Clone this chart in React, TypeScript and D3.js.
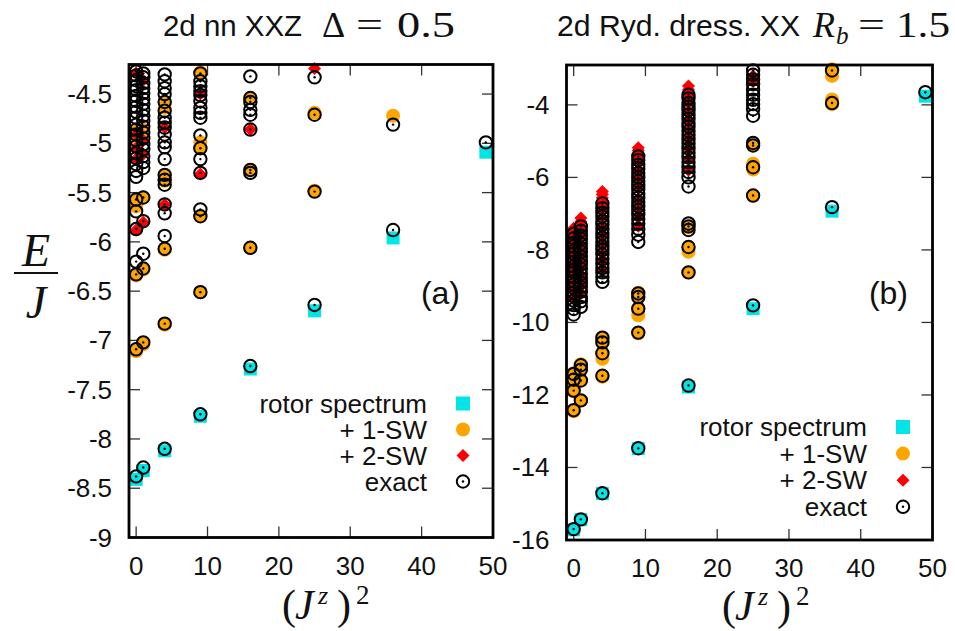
import React from "react";
import * as d3 from "d3";

// ---------- data ----------
const X_VALUES = [0, 1, 4, 9, 16, 25, 36, 49];
const X_TICKS = [0, 10, 20, 30, 40, 50];

// panel (a): 2d nn XXZ, Delta = 0.5
const Y_TICKS_A = [-4.5, -5, -5.5, -6, -6.5, -7, -7.5, -8, -8.5, -9];
const rotorA = [-8.41, -8.32, -8.12, -7.77, -7.29, -6.7, -5.96, -5.09];
const sw1A: Record<number, number[]> = {
  0: [-4.88, -4.95, -5.58, -5.64, -6.34, -7.11],
  1: [-4.86, -4.93, -5.55, -6.28, -7.04],
  4: [-4.59, -4.64, -5.33, -5.38, -6.08, -6.84],
  9: [-4.28, -4.99, -5.05, -5.74, -6.51],
  16: [-4.54, -5.27, -6.06],
  25: [-4.69, -5.48],
  36: [-4.72],
};
const sw2A: Record<number, number[]> = {
  0: [-4.29, -4.91, -5.05, -5.16, -5.88],
  1: [-4.36, -4.97, -5.11, -5.8],
  4: [-4.84, -5.62],
  9: [-4.5, -5.31],
  16: [-4.86],
  25: [-4.24],
};
const exactA: Record<number, number[]> = {
  0: [-4.27, -4.31, -4.36, -4.42, -4.46, -4.52, -4.57, -4.63, -4.68, -4.74, -4.81, -4.86, -4.91, -4.97, -5.03, -5.1, -5.15, -5.21, -5.28, -5.34, -5.57, -5.69, -5.87, -6.2, -6.33, -7.09, -8.38],
  1: [-4.29, -4.33, -4.39, -4.44, -4.49, -4.55, -4.6, -4.66, -4.72, -4.77, -4.83, -4.89, -4.95, -5.01, -5.06, -5.13, -5.19, -5.25, -5.55, -5.79, -6.12, -6.27, -7.02, -8.29],
  4: [-4.3, -4.37, -4.44, -4.5, -4.58, -4.67, -4.74, -4.79, -4.84, -4.91, -4.99, -5.04, -5.16, -5.32, -5.37, -5.42, -5.62, -5.71, -5.94, -6.07, -6.83, -8.1],
  9: [-4.29, -4.37, -4.42, -4.47, -4.51, -4.57, -4.64, -4.69, -4.74, -4.92, -5.05, -5.16, -5.3, -5.67, -5.74, -6.51, -7.75],
  16: [-4.32, -4.54, -4.58, -4.66, -4.71, -4.86, -5.27, -5.3, -6.06, -7.26],
  25: [-4.33, -4.71, -5.49, -6.64],
  36: [-4.81, -5.88],
  49: [-4.99],
};

// panel (b): 2d Rydberg dressed XX, R_b = 1.5
const Y_TICKS_B = [-4, -6, -8, -10, -12, -14, -16];
const rotorB = [-15.72, -15.44, -14.72, -13.48, -11.78, -9.62, -6.93, -3.76];
const sw1B: Record<number, number[]> = {
  0: [-11.4, -11.55, -11.72, -11.9, -12.45],
  1: [-11.15, -11.3, -11.6, -12.15],
  4: [-10.42, -10.55, -10.85, -11.0, -11.5],
  9: [-9.18, -9.3, -9.62, -9.8, -10.3],
  16: [-7.38, -7.92, -8.05, -8.62],
  25: [-5.12, -5.62, -5.78, -6.5],
  36: [-3.02, -3.2, -3.85, -3.98],
};
const sw2B: Record<number, number[]> = {
  0: [-7.4, -7.5, -7.62, -7.75, -7.9, -8.05, -8.22, -8.4, -8.55, -8.7, -8.9, -9.1, -9.3],
  1: [-7.12, -7.22, -7.35, -7.5, -7.65, -7.85, -8.0, -8.15, -8.3, -8.5, -8.7, -8.85, -9.0, -9.2],
  4: [-6.39, -6.47, -6.57, -6.68, -6.8, -6.95, -7.15, -7.4, -7.6, -7.85, -8.1, -8.35, -8.55],
  9: [-5.18, -5.26, -5.35, -5.47, -5.6, -5.8, -6.05, -6.3, -6.6, -6.85, -7.1, -7.35],
  16: [-3.48, -3.58, -3.7, -3.82, -3.95, -4.2, -4.45, -4.7, -4.95, -5.2, -5.5, -5.8],
  25: [-3.2, -3.35],
};
const exactB: Record<number, number[]> = {
  0: [-7.55, -7.68, -7.8, -7.9, -8.02, -8.1, -8.22, -8.33, -8.45, -8.55, -8.62, -8.75, -8.86, -8.95, -9.05, -9.17, -9.28, -9.4, -9.52, -9.63, -9.78, -11.42, -11.58, -11.88, -12.42, -15.7],
  1: [-7.35, -7.47, -7.6, -7.7, -7.83, -7.95, -8.05, -8.18, -8.3, -8.4, -8.52, -8.66, -8.78, -8.9, -9.02, -9.15, -9.3, -9.42, -9.57, -11.18, -11.3, -11.6, -12.15, -15.43],
  4: [-6.72, -6.85, -6.97, -7.08, -7.2, -7.3, -7.42, -7.55, -7.66, -7.78, -7.9, -8.0, -8.12, -8.25, -8.38, -8.5, -8.62, -8.75, -8.88, -10.42, -10.55, -10.85, -11.47, -14.71],
  9: [-5.42, -5.52, -5.65, -5.76, -5.88, -6.0, -6.1, -6.22, -6.33, -6.45, -6.56, -6.68, -6.8, -6.9, -7.02, -7.15, -7.28, -7.42, -7.58, -7.78, -9.2, -9.3, -9.62, -10.28, -13.47],
  16: [-3.72, -3.82, -3.95, -4.05, -4.15, -4.27, -4.38, -4.5, -4.6, -4.72, -4.83, -4.95, -5.07, -5.2, -5.32, -5.45, -5.58, -5.72, -5.85, -6.0, -6.25, -7.27, -7.35, -7.45, -7.92, -8.62, -11.74],
  25: [-3.05, -3.17, -3.3, -3.43, -3.58, -3.72, -3.86, -3.98, -4.12, -4.3, -5.05, -5.12, -5.72, -6.5, -9.53],
  36: [-3.05, -3.95, -6.82],
  49: [-3.65],
};

const LEGEND_LABELS = ["rotor spectrum", "+ 1-SW", "+ 2-SW", "exact"];

// ---------- style ----------
const CYAN = "#00e5e6";
const ORANGE = "#ffa500";
const RED = "#ff0000";
const SANS = "'Liberation Sans', Arial, Helvetica, sans-serif";
const SERIF = "'Liberation Serif', 'DejaVu Serif', serif";
const FS = 26;

type Pt = [number, number];
const flatten = (col: Record<number, number[]>): Pt[] =>
  Object.keys(col).flatMap((k) => col[+k].map((v) => [+k, v] as Pt));

const Square = ({ cx, cy, s = 13 }: { cx: number; cy: number; s?: number }) => (
  <rect x={cx - s / 2} y={cy - s / 2} width={s} height={s} fill={CYAN} />
);
const Disc = ({ cx, cy }: { cx: number; cy: number }) => (
  <circle cx={cx} cy={cy} r={7} fill={ORANGE} />
);
const Diamond = ({ cx, cy }: { cx: number; cy: number }) => (
  <path d={`M${cx},${cy - 6.5}L${cx + 6.5},${cy}L${cx},${cy + 6.5}L${cx - 6.5},${cy}Z`} fill={RED} />
);
const Exact = ({ cx, cy }: { cx: number; cy: number }) => (
  <g>
    <circle cx={cx} cy={cy} r={6.2} fill="none" stroke="#000" strokeWidth={2} />
    <circle cx={cx} cy={cy} r={1.2} fill="#000" />
  </g>
);

interface PanelProps {
  left: number; right: number; top: number; bottom: number;
  yDomain: [number, number];
  yTicks: number[];
  rotor: number[];
  sw1: Record<number, number[]>;
  sw2: Record<number, number[]>;
  exact: Record<number, number[]>;
  tag: string;
  legendTextX: number; legendSymX: number; legendY0: number; legendDy: number;
  tagX: number; tagY: number;
}

function Panel(p: PanelProps) {
  const x = d3.scaleLinear().domain([-1, 50]).range([p.left, p.right]);
  const y = d3.scaleLinear().domain(p.yDomain).range([p.bottom, p.top]);
  const tickLen = 11;
  const fmt = (v: number) => String(v);
  return (
    <g>
      {p.yTicks.map((t) => (
        <g key={"y" + t}>
          <line x1={p.left} x2={p.left + tickLen} y1={y(t)} y2={y(t)} stroke="#333" strokeWidth={1.3} />
          <line x1={p.right - tickLen} x2={p.right} y1={y(t)} y2={y(t)} stroke="#333" strokeWidth={1.3} />
          <text x={p.left - 17} y={y(t) + 9} textAnchor="end" fontFamily={SANS} fontSize={FS} fill="#111">
            {fmt(t)}
          </text>
        </g>
      ))}
      {X_TICKS.map((t) => (
        <g key={"x" + t}>
          <line x1={x(t)} x2={x(t)} y1={p.bottom} y2={p.bottom - tickLen} stroke="#333" strokeWidth={1.3} />
          <line x1={x(t)} x2={x(t)} y1={p.top} y2={p.top + tickLen} stroke="#333" strokeWidth={1.3} />
          <text x={x(t)} y={p.bottom + 37} textAnchor="middle" fontFamily={SANS} fontSize={FS} fill="#111">
            {fmt(t)}
          </text>
        </g>
      ))}
      {X_VALUES.map((xv, i) => (
        <Square key={"r" + xv} cx={x(xv)} cy={y(p.rotor[i])} />
      ))}
      {flatten(p.sw1).map(([xv, v], i) => (
        <Disc key={"o" + i} cx={x(xv)} cy={y(v)} />
      ))}
      {flatten(p.sw2).map(([xv, v], i) => (
        <Diamond key={"d" + i} cx={x(xv)} cy={y(v)} />
      ))}
      {flatten(p.exact).map(([xv, v], i) => (
        <Exact key={"e" + i} cx={x(xv)} cy={y(v)} />
      ))}
      {LEGEND_LABELS.map((lab, i) => {
        const cy = p.legendY0 + i * p.legendDy;
        return (
          <g key={lab}>
            <text x={p.legendTextX} y={cy + 9} textAnchor="end" fontFamily={SANS} fontSize={FS} fill="#111">
              {lab}
            </text>
            {i === 0 && <Square cx={p.legendSymX} cy={cy} s={14} />}
            {i === 1 && <Disc cx={p.legendSymX} cy={cy} />}
            {i === 2 && <Diamond cx={p.legendSymX} cy={cy} />}
            {i === 3 && <Exact cx={p.legendSymX} cy={cy} />}
          </g>
        );
      })}
      <text x={p.tagX} y={p.tagY} textAnchor="end" fontFamily={SANS} fontSize={32} fill="#111">
        {p.tag}
      </text>
      <rect x={p.left} y={p.top} width={p.right - p.left} height={p.bottom - p.top} fill="none" stroke="#000" strokeWidth={2.8} />
    </g>
  );
}

function XLabel({ x0, y }: { x0: number; y: number }) {
  return (
    <g fontFamily={SERIF} fill="#111">
      <text x={x0} y={y} fontSize={42}>(</text>
      <text x={x0 + 13} y={y} fontSize={42} fontStyle="italic">J</text>
      <text x={x0 + 36} y={y - 15} fontSize={26} fontStyle="italic">z</text>
      <text x={x0 + 55} y={y} fontSize={42}>)</text>
      <text x={x0 + 74} y={y - 15} fontSize={27}>2</text>
    </g>
  );
}

export default function App() {
  return (
    <svg width={955} height={631} style={{ position: "absolute", left: 0, top: 0, background: "#fff" }}>
      <rect width={955} height={631} fill="#fff" />
      {/* titles */}
      <text x={163} y={36} fontFamily={SANS} fontSize={29} fill="#111" textLength={139} lengthAdjust="spacingAndGlyphs">
        2d nn XXZ
      </text>
      <g fontFamily={SERIF} fill="#111" fontSize={36}>
        <text x={322} y={37}>Δ</text>
        <text x={356} y={37} textLength={27} lengthAdjust="spacingAndGlyphs">=</text>
        <text x={397} y={37} textLength={58} lengthAdjust="spacingAndGlyphs">0.5</text>
      </g>
      <text x={557} y={36} fontFamily={SANS} fontSize={29} fill="#111" textLength={243} lengthAdjust="spacingAndGlyphs">
        2d Ryd. dress. XX
      </text>
      <g fontFamily={SERIF} fill="#111" fontSize={36}>
        <text x={813} y={37} fontStyle="italic">R</text>
        <text x={836} y={44} fontStyle="italic" fontSize={25}>b</text>
        <text x={858} y={37} textLength={27} lengthAdjust="spacingAndGlyphs">=</text>
        <text x={896} y={37} textLength={54} lengthAdjust="spacingAndGlyphs">1.5</text>
      </g>

      {/* y label E/J */}
      <text x={36} y={266} textAnchor="middle" fontFamily={SERIF} fontStyle="italic" fontSize={46} fill="#111">E</text>
      <line x1={14} x2={58} y1={273} y2={273} stroke="#111" strokeWidth={2} />
      <text x={36} y={318} textAnchor="middle" fontFamily={SERIF} fontStyle="italic" fontSize={46} fill="#111">J</text>

      <Panel
        left={129} right={493} top={64.5} bottom={537.5}
        yDomain={[-9, -4.2]} yTicks={Y_TICKS_A}
        rotor={rotorA} sw1={sw1A} sw2={sw2A} exact={exactA}
        tag="(a)" tagX={460} tagY={304}
        legendTextX={427} legendSymX={463} legendY0={403.5} legendDy={26}
      />
      <Panel
        left={566.5} right={932.5} top={65} bottom={540}
        yDomain={[-16, -2.9]} yTicks={Y_TICKS_B}
        rotor={rotorB} sw1={sw1B} sw2={sw2B} exact={exactB}
        tag="(b)" tagX={908} tagY={304}
        legendTextX={867} legendSymX={903} legendY0={427} legendDy={26.6}
      />
      <XLabel x0={282} y={619} />
      <XLabel x0={722} y={620} />
    </svg>
  );
}
